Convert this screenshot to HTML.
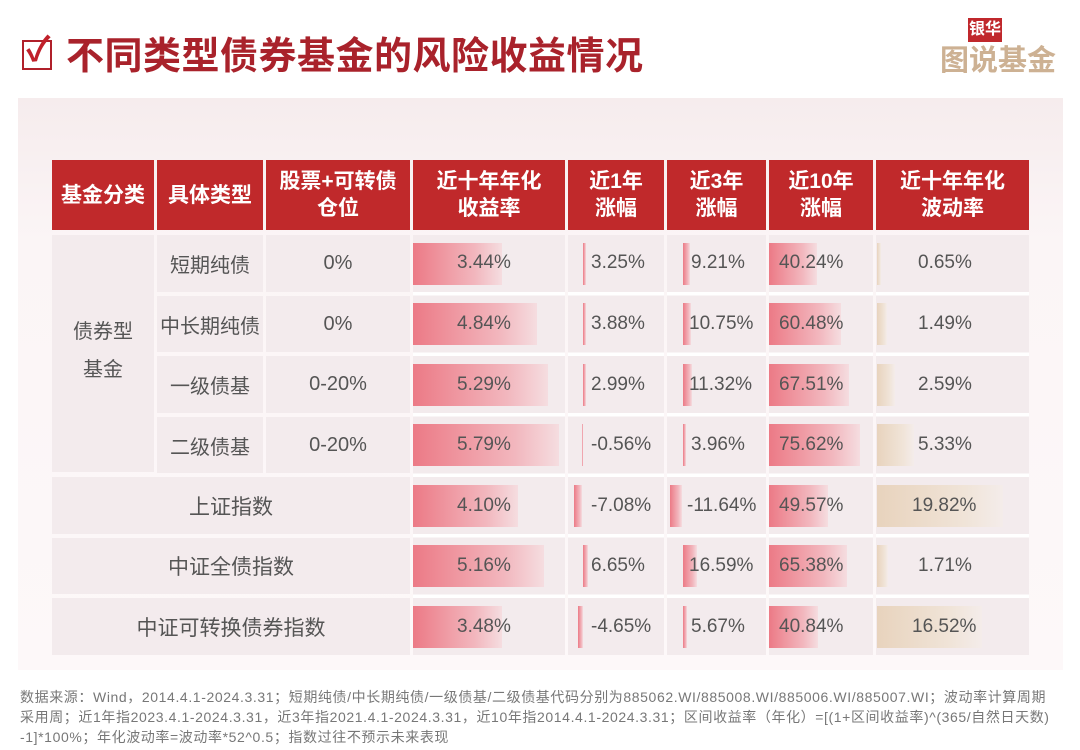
<!DOCTYPE html>
<html><head><meta charset="utf-8"><style>
*{margin:0;padding:0;box-sizing:border-box}
body{width:1080px;height:750px;background:#fff;position:relative;overflow:hidden;font-family:"Liberation Sans","Noto Sans CJK SC",sans-serif}
.a{position:absolute}
.panel{left:18px;top:98px;width:1045px;height:572px;background:linear-gradient(#f6eced 0%,#fbf5f6 25%,#fdf8f9 100%)}
.h{background:#c0292b;color:#fff;font-weight:bold;font-size:21px;line-height:27px;display:flex;align-items:center;justify-content:center;text-align:center;top:160px;height:70px}
.c{background:#f3ebed;color:#555;font-size:20px;display:flex;align-items:center;justify-content:center}
.b{position:absolute;height:42px;background:linear-gradient(90deg,#ec7a86,#f2b7be 70%,#f5dde0)}
.g{position:absolute;height:42px;background:linear-gradient(90deg,#e8d3bd,#f0e4d8 70%,#f4ecea)}
.t{position:absolute;font-size:19px;color:#555;line-height:58px}
</style></head><body>
<div class="a" style="left:22px;top:40px;width:30px;height:30px;border:2.5px solid #b0202a;background:#fff"></div>
<div class="a" style="left:26px;top:30px;font-size:34px;color:#c0202a;font-weight:bold;line-height:40px">✓</div>
<div class="a" style="left:66px;top:34px;font-size:38px;font-weight:bold;color:#a9222b;line-height:46px;letter-spacing:0.5px">不同类型债券基金的风险收益情况</div>
<div class="a" style="left:968px;top:18px;width:34px;height:24px;background:#c0282c;color:#fff;font-size:16px;font-weight:bold;line-height:24px;text-align:center">银华</div>
<div class="a" style="left:940px;top:44px;font-size:29px;font-weight:bold;color:#cdb193;line-height:34px">图说基金</div>
<div class="a panel"></div>

<div class="a h" style="left:52px;width:102px">基金分类</div>
<div class="a h" style="left:157px;width:106px">具体类型</div>
<div class="a h" style="left:266px;width:144px">股票+可转债<br>仓位</div>
<div class="a h" style="left:413px;width:152px">近十年年化<br>收益率</div>
<div class="a h" style="left:568px;width:96px">近1年<br>涨幅</div>
<div class="a h" style="left:667px;width:99px">近3年<br>涨幅</div>
<div class="a h" style="left:769px;width:104px">近10年<br>涨幅</div>
<div class="a h" style="left:876px;width:153px">近十年年化<br>波动率</div>

<div class="a" style="left:52px;top:235px;width:102px;height:237px;background:#f3ebed;color:#555;font-size:20px;text-align:center;line-height:38px;padding-top:78px">债券型<br>基金</div>

<div class="a c" style="left:157px;top:235px;width:106px;height:57px">短期纯债</div>
<div class="a c" style="left:266px;top:235px;width:144px;height:57px">0%</div>
<div class="a c" style="left:157px;top:296px;width:106px;height:56px">中长期纯债</div>
<div class="a c" style="left:266px;top:296px;width:144px;height:56px">0%</div>
<div class="a c" style="left:157px;top:356px;width:106px;height:57px">一级债基</div>
<div class="a c" style="left:266px;top:356px;width:144px;height:57px">0-20%</div>
<div class="a c" style="left:157px;top:417px;width:106px;height:56px">二级债基</div>
<div class="a c" style="left:266px;top:417px;width:144px;height:56px">0-20%</div>
<div class="a c" style="left:52px;top:477px;width:358px;height:57px;font-size:21px">上证指数</div>
<div class="a c" style="left:52px;top:538px;width:358px;height:56px;font-size:21px">中证全债指数</div>
<div class="a c" style="left:52px;top:598px;width:358px;height:57px;font-size:21px">中证可转换债券指数</div>

<div class="a" style="left:413px;top:235px;width:152px;height:420px;background:repeating-linear-gradient(#f3ebed 0 57px,#fff 57px 60.5px)"></div>
<div class="a" style="left:568px;top:235px;width:96px;height:420px;background:repeating-linear-gradient(#f3ebed 0 57px,#fff 57px 60.5px)"></div>
<div class="a" style="left:667px;top:235px;width:99px;height:420px;background:repeating-linear-gradient(#f3ebed 0 57px,#fff 57px 60.5px)"></div>
<div class="a" style="left:769px;top:235px;width:104px;height:420px;background:repeating-linear-gradient(#f3ebed 0 57px,#fff 57px 60.5px)"></div>
<div class="a" style="left:876px;top:235px;width:153px;height:420px;background:repeating-linear-gradient(#f3ebed 0 57px,#fff 57px 60.5px)"></div>

<div class="b" style="left:413px;top:243px;width:89px"></div>
<div class="b" style="left:413px;top:303px;width:124px"></div>
<div class="b" style="left:413px;top:364px;width:135px"></div>
<div class="b" style="left:413px;top:424px;width:146px"></div>
<div class="b" style="left:413px;top:485px;width:105px"></div>
<div class="b" style="left:413px;top:545px;width:131px"></div>
<div class="b" style="left:413px;top:606px;width:89px"></div>

<div class="b" style="left:583px;top:243px;width:3px"></div>
<div class="b" style="left:583px;top:303px;width:3px"></div>
<div class="b" style="left:583px;top:364px;width:3px"></div>
<div class="b" style="left:582px;top:424px;width:1px"></div>
<div class="b" style="left:574px;top:485px;width:8px"></div>
<div class="b" style="left:583px;top:545px;width:5px"></div>
<div class="b" style="left:578px;top:606px;width:5px"></div>

<div class="b" style="left:683px;top:243px;width:7px"></div>
<div class="b" style="left:683px;top:303px;width:8px"></div>
<div class="b" style="left:683px;top:364px;width:9px"></div>
<div class="b" style="left:683px;top:424px;width:3px"></div>
<div class="b" style="left:670px;top:485px;width:12px"></div>
<div class="b" style="left:683px;top:545px;width:14px"></div>
<div class="b" style="left:683px;top:606px;width:4px"></div>

<div class="b" style="left:769px;top:243px;width:48px"></div>
<div class="b" style="left:769px;top:303px;width:72px"></div>
<div class="b" style="left:769px;top:364px;width:80px"></div>
<div class="b" style="left:769px;top:424px;width:91px"></div>
<div class="b" style="left:769px;top:485px;width:59px"></div>
<div class="b" style="left:769px;top:545px;width:78px"></div>
<div class="b" style="left:769px;top:606px;width:49px"></div>

<div class="g" style="left:877px;top:243px;width:4px"></div>
<div class="g" style="left:877px;top:303px;width:10px"></div>
<div class="g" style="left:877px;top:364px;width:18px"></div>
<div class="g" style="left:877px;top:424px;width:37px"></div>
<div class="g" style="left:877px;top:485px;width:126px"></div>
<div class="g" style="left:877px;top:545px;width:11px"></div>
<div class="g" style="left:877px;top:606px;width:105px"></div>

<div class="a" style="left:0;top:235px;width:1080px">
<div style="position:relative;height:420px">
<div class="t" style="left:457px;top:-1px">3.44%</div><div class="t" style="left:457px;top:60px">4.84%</div><div class="t" style="left:457px;top:121px">5.29%</div><div class="t" style="left:457px;top:181px">5.79%</div><div class="t" style="left:457px;top:242px">4.10%</div><div class="t" style="left:457px;top:302px">5.16%</div><div class="t" style="left:457px;top:363px">3.48%</div>
<div class="t" style="left:591px;top:-1px">3.25%</div><div class="t" style="left:591px;top:60px">3.88%</div><div class="t" style="left:591px;top:121px">2.99%</div><div class="t" style="left:591px;top:181px">-0.56%</div><div class="t" style="left:591px;top:242px">-7.08%</div><div class="t" style="left:591px;top:302px">6.65%</div><div class="t" style="left:591px;top:363px">-4.65%</div>
<div class="t" style="left:691px;top:-1px">9.21%</div><div class="t" style="left:689px;top:60px">10.75%</div><div class="t" style="left:689px;top:121px">11.32%</div><div class="t" style="left:691px;top:181px">3.96%</div><div class="t" style="left:687px;top:242px">-11.64%</div><div class="t" style="left:689px;top:302px">16.59%</div><div class="t" style="left:691px;top:363px">5.67%</div>
<div class="t" style="left:779px;top:-1px">40.24%</div><div class="t" style="left:779px;top:60px">60.48%</div><div class="t" style="left:779px;top:121px">67.51%</div><div class="t" style="left:779px;top:181px">75.62%</div><div class="t" style="left:779px;top:242px">49.57%</div><div class="t" style="left:779px;top:302px">65.38%</div><div class="t" style="left:779px;top:363px">40.84%</div>
<div class="t" style="left:918px;top:-1px">0.65%</div><div class="t" style="left:918px;top:60px">1.49%</div><div class="t" style="left:918px;top:121px">2.59%</div><div class="t" style="left:918px;top:181px">5.33%</div><div class="t" style="left:912px;top:242px">19.82%</div><div class="t" style="left:918px;top:302px">1.71%</div><div class="t" style="left:912px;top:363px">16.52%</div>
</div></div>

<div class="a" style="left:20px;top:687px;width:1060px;font-size:14px;line-height:20px;color:#777;letter-spacing:0.6px;white-space:nowrap">数据来源：Wind，2014.4.1-2024.3.31；短期纯债/中长期纯债/一级债基/二级债基代码分别为885062.WI/885008.WI/885006.WI/885007.WI；波动率计算周期<br>采用周；近1年指2023.4.1-2024.3.31，近3年指2021.4.1-2024.3.31，近10年指2014.4.1-2024.3.31；区间收益率（年化）=[(1+区间收益率)^(365/自然日天数)<br>-1]*100%；年化波动率=波动率*52^0.5；指数过往不预示未来表现</div>
</body></html>
